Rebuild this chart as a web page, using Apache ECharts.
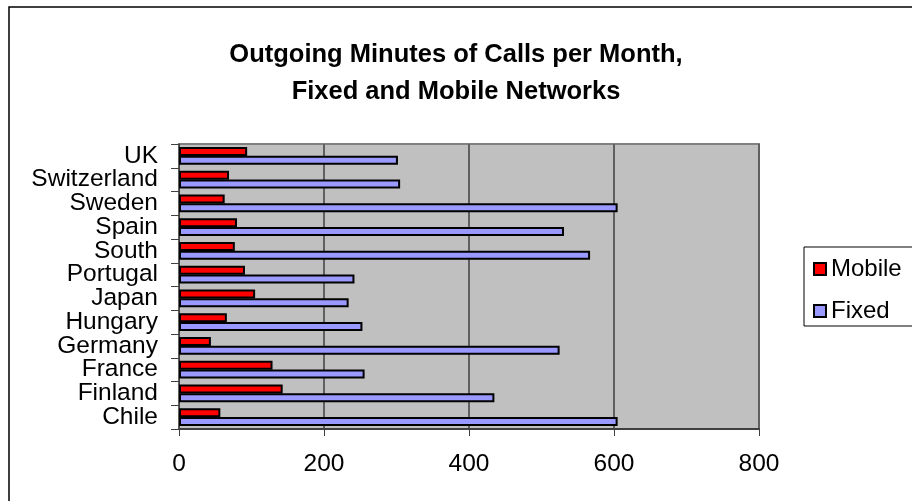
<!DOCTYPE html>
<html>
<head>
<meta charset="utf-8">
<script src="https://cdn.jsdelivr.net/npm/echarts@6/dist/echarts.min.js"></script>
<style>
  html, body { margin: 0; padding: 0; background: #fff; }
  #main { width: 912px; height: 501px; }
</style>
</head>
<body>
<div id="main"></div>
<script>
// categories, bottom to top as on the axis
var countries = ['Chile', 'Finland', 'France', 'Germany', 'Hungary', 'Japan',
                 'Portugal', 'South', 'Spain', 'Sweden', 'Switzerland', 'UK'];
var mobileMinutes = [57, 143, 129, 44, 66, 105, 91, 77, 80, 63, 69, 94];
var fixedMinutes = [605, 435, 256, 525, 253, 234, 242, 567, 531, 605, 305, 302];
var xTicks = [0, 200, 400, 600, 800];

var font = 'Arial, "Liberation Sans", sans-serif';

var myChart = echarts.init(document.getElementById('main'));
window.onresize = myChart.resize;

myChart.setOption({
    animation: false,
    backgroundColor: '#fff',
    title: {
        text: 'Outgoing Minutes of Calls per Month,\nFixed and Mobile Networks',
        left: 'center',
        top: 31,
        textStyle: {
            fontFamily: font,
            fontSize: 25.5,
            fontWeight: 'bold',
            color: '#000',
            lineHeight: 37
        }
    },
    // outer chart frame + legend box
    graphic: [
        {
            type: 'rect',
            shape: { x: 9, y: 7, width: 920, height: 520 },
            style: { fill: 'none', stroke: '#000', lineWidth: 1.5 },
            silent: true
        },
        {
            type: 'rect',
            shape: { x: 804, y: 247, width: 120, height: 79 },
            style: { fill: '#fff', stroke: '#000', lineWidth: 1 },
            silent: true,
            z: 0
        }
    ],
    legend: {
        orient: 'vertical',
        left: 804,
        top: 248,
        padding: [9, 0, 0, 9],
        itemWidth: 12,
        itemHeight: 12,
        itemGap: 18,
        z: 10,
        data: [
            { name: 'Mobile', icon: 'rect' },
            { name: 'Fixed', icon: 'rect' }
        ],
        textStyle: { fontFamily: font, fontSize: 24, color: '#000' }
    },
    grid: {
        left: 179,
        right: 153,
        top: 144,
        bottom: 72,
        show: true,
        backgroundColor: '#c0c0c0',
        borderColor: '#808080',
        borderWidth: 2
    },
    xAxis: {
        type: 'value',
        min: xTicks[0],
        max: xTicks[xTicks.length - 1],
        interval: xTicks[1] - xTicks[0],
        axisLine: { show: true, lineStyle: { color: '#404040', width: 2 } },
        axisTick: { show: true, length: 7, lineStyle: { color: '#404040', width: 1 } },
        splitLine: { show: true, lineStyle: { color: '#606060', width: 2 } },
        axisLabel: { fontFamily: font, fontSize: 24.5, color: '#000', margin: 23 }
    },
    yAxis: {
        type: 'category',
        data: countries,
        axisLine: { show: true, lineStyle: { color: '#404040', width: 1 } },
        axisTick: { show: true, length: 8, lineStyle: { color: '#404040', width: 1 } },
        splitLine: { show: false },
        axisLabel: { fontFamily: font, fontSize: 24.5, color: '#000', margin: 21, interval: 0 }
    },
    series: [
        {
            name: 'Mobile',
            type: 'bar',
            barWidth: 9,
            barGap: '-5%',
            data: mobileMinutes,
            itemStyle: { color: '#ff0000', borderColor: '#000', borderWidth: 2 }
        },
        {
            name: 'Fixed',
            type: 'bar',
            barWidth: 9,
            data: fixedMinutes,
            itemStyle: { color: '#9999ff', borderColor: '#000', borderWidth: 2 }
        }
    ]
});
</script>
</body>
</html>
